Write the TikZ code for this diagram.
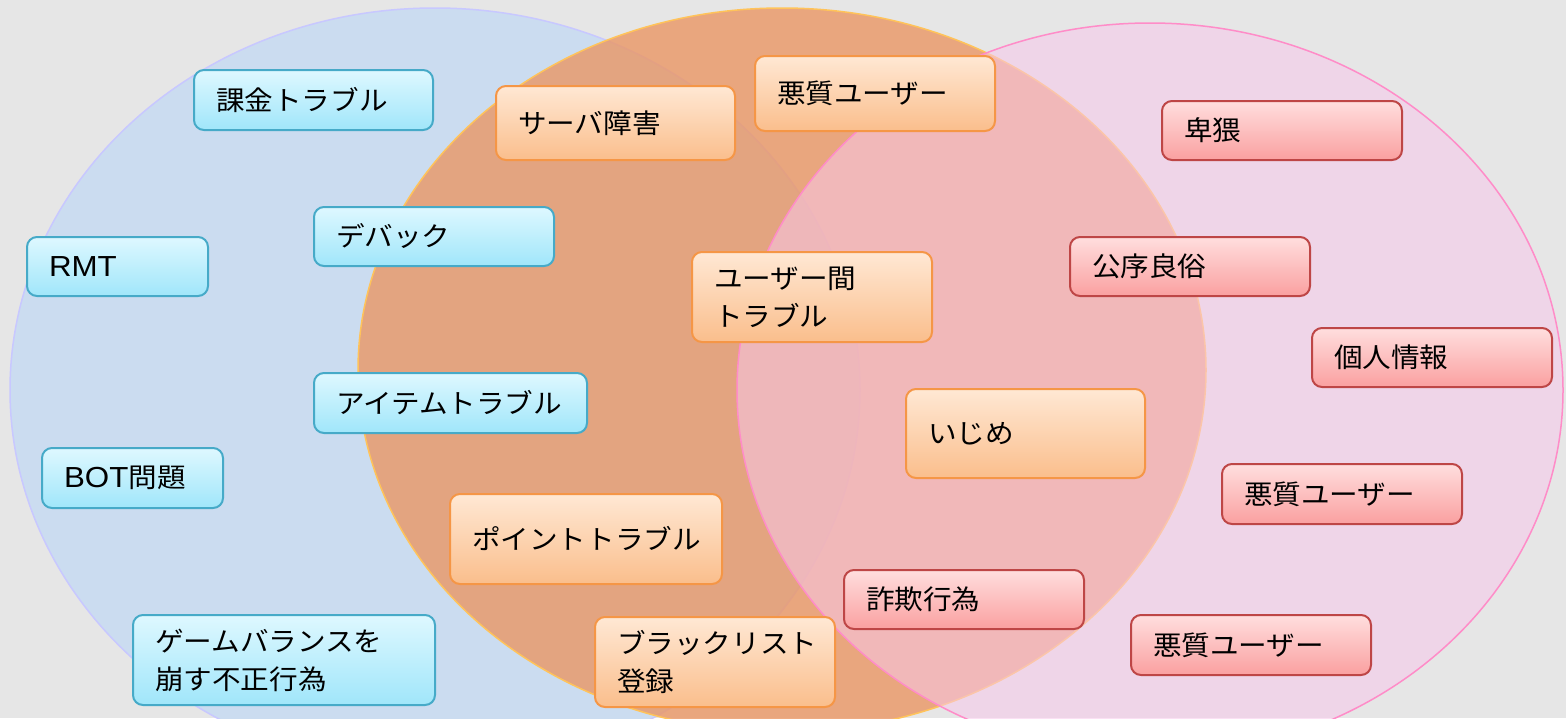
\documentclass[tikz,border=0pt]{standalone}
\usepackage{fontspec}
\newfontfamily\jpfont[FakeStretch=1.06]{Noto Sans CJK JP}
\newfontfamily\latinfont[FakeStretch=1.08]{Liberation Sans}
\newcommand{\Lat}[1]{{\latinfont\fontsize{29}{38}\selectfont #1}}
\usepackage{tikz}
\usetikzlibrary{positioning, shapes.geometric}
\definecolor{bgray}{RGB}{230,230,230}
\definecolor{blueset}{RGB}{203,220,240}
\definecolor{orangeset}{RGB}{234,150,100}
\definecolor{pinkset}{RGB}{248,200,235}
\tikzset{
  every picture/.style={line width=1pt},
  every node/.style={font=\jpfont\fontsize{27}{38}\selectfont},
  cell/.style 2 args={draw, rounded corners=10pt, line width=2pt, anchor=north west,
    align=left, inner xsep=22pt, inner ysep=0pt, text width=#1, minimum height=#2},
  bluebox/.style={draw={rgb,255:red,70;green,170;blue,200},
    top color={rgb,255:red,222;green,248;blue,255}, bottom color={rgb,255:red,160;green,230;blue,250}},
  orangebox/.style={draw={rgb,255:red,245;green,150;blue,70},
    top color={rgb,255:red,255;green,232;blue,212}, bottom color={rgb,255:red,250;green,190;blue,140}},
  redbox/.style={draw={rgb,255:red,190;green,70;blue,70},
    top color={rgb,255:red,255;green,222;blue,222}, bottom color={rgb,255:red,250;green,160;blue,160}}
}

\begin{document}
\begin{tikzpicture}[x=1pt, y=-1pt]
    \useasboundingbox (0,0) rectangle (1566,718);
    \clip (0,0) rectangle (1566,718);
    \fill[bgray] (0,0) rectangle (1566,718);

    % sets
    \draw[fill=blueset, draw={rgb,255:red,200;green,200;blue,255}, line width=1.5pt]
      (435,390) ellipse [x radius=425, y radius=382];
    \draw[fill=orangeset, fill opacity=0.8, draw={rgb,255:red,255;green,195;blue,90}, line width=1.5pt]
      (782,370) ellipse [x radius=424, y radius=362];
    \draw[fill=pinkset, fill opacity=0.55, draw={rgb,255:red,255;green,140;blue,200}, line width=1.5pt]
      (1150,390) ellipse [x radius=413, y radius=367];

    % left set
    \node [cell={195pt}{60pt}, bluebox] (0) at (193,69) {課金トラブル};
    \node [cell={137pt}{59pt}, bluebox] (1) at (26,236) {\Lat{RMT}};
    \node [cell={196pt}{59pt}, bluebox] (2) at (313,206) {デバック};
    \node [cell={229pt}{60pt}, bluebox] (3) at (313,372) {アイテムトラブル};
    \node [cell={137pt}{60pt}, bluebox] (4) at (41,447) {\Lat{BOT}問題};
    \node [cell={258pt}{90pt}, bluebox] (5) at (132,614) {ゲームバランスを\\崩す不正行為};

    % middle set
    \node [cell={195pt}{74pt}, orangebox] (6) at (495,85) {サーバ障害};
    \node [cell={196pt}{75pt}, orangebox] (7) at (754,55) {悪質ユーザー};
    \node [cell={196pt}{90pt}, orangebox] (8) at (691,251) {ユーザー間\\トラブル};
    \node [cell={195pt}{89pt}, orangebox] (9) at (905,388) {いじめ};
    \node [cell={228pt}{90pt}, orangebox] (10) at (449,493) {ポイントトラブル};
    \node [cell={196pt}{90pt}, orangebox] (11) at (594,616) {ブラックリスト\\登録};

    % right set
    \node [cell={196pt}{59pt}, redbox] (12) at (1161,100) {卑猥};
    \node [cell={196pt}{59pt}, redbox] (13) at (1069,236) {公序良俗};
    \node [cell={196pt}{59pt}, redbox] (14) at (1311,327) {個人情報};
    \node [cell={196pt}{60pt}, redbox] (15) at (1221,463) {悪質ユーザー};
    \node [cell={196pt}{59pt}, redbox] (16) at (843,569) {詐欺行為};
    \node [cell={196pt}{60pt}, redbox] (17) at (1130,614) {悪質ユーザー};
  \end{tikzpicture}
\end{document}
